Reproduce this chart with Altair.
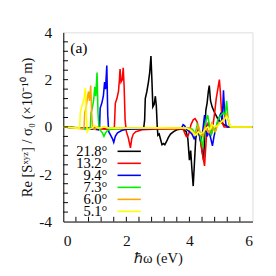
import altair as alt
import pandas as pd

# ---------------- data ----------------
LABELS = ["21.8°", "13.2°", "9.4°", "7.3°", "6.0°", "5.1°"]
COLORS = ["#000000", "#ff0000", "#0000ff", "#00ee00", "#ffa500", "#ffff00"]

x_218 = [0, 0.5, 1.0, 2.0, 2.55, 2.58, 2.6, 2.65, 2.7, 2.74, 2.78, 2.81, 2.84, 2.88, 2.92, 2.95, 2.98,
         3.0, 3.04, 3.08, 3.13, 3.18, 3.22, 3.28, 3.33, 3.4, 3.5, 3.6, 3.7, 3.8, 3.9, 3.95, 4.0, 4.04,
         4.08, 4.12, 4.16, 4.2, 4.25, 4.3, 4.35, 4.4, 4.45, 4.48, 4.52, 4.56, 4.6, 4.63, 4.67, 4.72,
         4.8, 4.9, 5.0, 5.1, 5.2, 5.3, 6.0]
y_218 = [0, -0.04, -0.06, -0.07, -0.05, 0.3, 1.2, 1.5, 1.9, 2.3, 3.0, 2.0, 0.85, 0.95, 1.3, 0.9, 0.0,
         -0.35, -0.3, -0.5, -0.75, -0.7, -0.75, -0.6, -0.45, -0.3, -0.2, -0.12, -0.1, -0.1, -0.2, -0.5,
         -1.4, -1.0, -1.8, -2.5, -1.5, -0.5, -0.1, -0.3, -0.5, -1.0, -1.4, -0.5, 0.7, 1.0, 1.5, 1.75,
         1.1, 0.85, 0.6, 0.35, 0.2, 0.1, 0.02, 0.0, 0.0]

x_132 = [0, 0.5, 1.0, 1.4, 1.55, 1.62, 1.65, 1.7, 1.75, 1.78, 1.8, 1.83, 1.87, 1.9, 1.93, 1.96, 2.0,
         2.06, 2.1, 2.13, 2.17, 2.22, 2.3, 2.5, 3.0, 3.5, 3.8, 3.85, 3.9, 3.95, 4.0, 4.05, 4.12, 4.18,
         4.25, 4.3, 4.35, 4.42, 4.48, 4.52, 4.56, 4.6, 4.65, 4.7, 4.75, 4.8, 4.85, 4.9, 4.95, 4.98,
         5.02, 5.06, 5.1, 6.0]
y_132 = [0, -0.03, -0.06, -0.1, -0.1, 0.0, 1.0, 1.2, 1.5, 2.0, 2.45, 1.9, 2.0, 2.5, 1.7, 0.3, -0.2,
         -0.45, -0.7, -0.88, -0.5, -0.3, -0.2, -0.12, -0.08, -0.08, -0.08, -0.25, -0.4, -0.4, -0.2,
         0.1, 0.3, 0.35, 0.2, -0.2, -0.6, -1.2, -1.65, -0.8, 0.0, 0.2, -0.1, -0.3, 0.1, 0.6, 1.2, 1.6,
         2.0, 1.5, 0.6, 0.1, 0.0, 0.0]

x_94 = [0, 0.5, 1.0, 1.12, 1.15, 1.17, 1.22, 1.27, 1.31, 1.34, 1.38, 1.41, 1.44, 1.5, 1.56, 1.6, 1.65,
        1.72, 1.85, 2.0, 2.5, 3.0, 3.5, 3.75, 3.8, 3.85, 3.9, 4.0, 4.08, 4.15, 4.22, 4.28, 4.35, 4.42,
        4.48, 4.52, 4.56, 4.62, 4.68, 4.73, 4.78, 4.85, 4.92, 5.0, 5.04, 5.08, 5.12, 5.16, 5.2, 6.0]
y_94 = [0, -0.05, -0.1, -0.12, 0.0, 0.8, 1.0, 1.3, 1.9, 1.6, 2.6, 0.5, -0.2, -0.35, -0.5, -0.65, -0.4,
        -0.25, -0.15, -0.1, -0.08, -0.06, -0.05, -0.05, 0.1, 0.05, -0.1, -0.2, -0.3, -0.5, -0.3, 0.0,
        -0.6, -0.2, 0.5, 0.1, -0.4, -0.2, -0.5, -0.8, -0.4, 0.0, 0.3, 0.6, 0.2, 1.55, 0.5, 0.1, 0.0, 0.0]

x_73 = [0, 0.5, 0.82, 0.86, 0.88, 0.92, 0.96, 1.0, 1.03, 1.07, 1.1, 1.13, 1.18, 1.24, 1.29, 1.34, 1.4,
        1.5, 1.8, 2.5, 3.5, 4.0, 4.1, 4.18, 4.25, 4.32, 4.38, 4.42, 4.47, 4.53, 4.58, 4.64, 4.7, 4.76,
        4.82, 4.9, 5.0, 5.08, 5.13, 5.18, 5.22, 5.27, 5.3, 6.0]
y_73 = [0, -0.04, -0.08, 0.0, 0.6, 0.8, 1.1, 1.7, 1.3, 2.3, 0.6, 0.0, -0.15, -0.25, -0.4, -0.25, -0.15,
        -0.1, -0.05, -0.05, -0.04, -0.05, -0.1, -0.3, 0.1, -0.2, -0.6, -0.85, -0.2, 0.3, 0.5, 0.0, -0.3,
        0.0, -0.2, 0.3, 0.5, 0.6, 0.5, 1.1, 0.4, 0.05, 0.0, 0.0]

x_60 = [0, 0.4, 0.62, 0.66, 0.68, 0.72, 0.76, 0.8, 0.83, 0.87, 0.9, 0.93, 1.0, 1.08, 1.15, 1.3, 1.4,
        2.0, 3.0, 4.0, 4.08, 4.15, 4.22, 4.28, 4.35, 4.42, 4.5, 4.56, 4.62, 4.7, 4.76, 4.82, 4.9, 5.0,
        5.1, 5.18, 5.22, 5.27, 5.3, 6.0]
y_60 = [0, -0.05, -0.08, 0.0, 0.6, 0.8, 1.2, 1.5, 1.1, 1.75, 0.6, -0.05, -0.1, 0.0, -0.05, 0.0, -0.05,
        -0.05, -0.04, -0.05, -0.15, -0.3, -0.2, 0.1, -0.3, -0.4, 0.0, -0.15, -0.25, 0.15, -0.1, -0.2,
        0.1, 0.2, 0.35, 0.55, 0.4, 0.1, 0.0, 0.0]

x_51 = [0, 0.45, 0.5, 0.52, 0.54, 0.58, 0.62, 0.66, 0.7, 0.73, 0.76, 0.8, 0.9, 1.0, 1.1, 1.3, 1.5, 2.0,
        3.0, 3.9, 4.0, 4.1, 4.2, 4.28, 4.35, 4.42, 4.5, 4.58, 4.65, 4.72, 4.8, 4.9, 5.0, 5.1, 5.18,
        5.23, 5.28, 5.32, 6.0]
y_51 = [0, -0.05, -0.05, 0.0, 0.6, 0.85, 1.0, 1.2, 1.65, 0.5, -0.2, -0.1, -0.05, 0.05, -0.05, 0.0,
        -0.05, -0.05, -0.03, -0.05, -0.1, -0.2, -0.35, -0.2, -0.3, -0.25, -0.1, 0.0, -0.1, 0.1, 0.0,
        0.05, 0.2, 0.3, 0.45, 0.35, 0.1, 0.0, 0.0]

X_LABEL_TICKS = [0, 2, 4, 6]
Y_LABEL_TICKS = [-4, -2, 0, 2, 4]
X_MINOR = [0.4, 0.8, 1.2, 1.6, 2, 2.4, 2.8, 3.2, 3.6, 4, 4.4, 4.8, 5.2, 5.6]
Y_MINOR = [-3.6, -3.2, -2.8, -2.4, -2, -1.6, -1.2, -0.8, -0.4, 0, 0.4, 0.8, 1.2, 1.6, 2, 2.4,
           2.8, 3.2, 3.6]

SERIES = [(x_218, y_218), (x_132, y_132), (x_94, y_94), (x_73, y_73), (x_60, y_60), (x_51, y_51)]

rows = []
for i, (lab, (xs_, ys_)) in enumerate(zip(LABELS, SERIES)):
    for j, (xv, yv) in enumerate(zip(xs_, ys_)):
        rows.append({"series": lab, "order": i, "idx": j, "x": xv, "y": yv})
df = pd.DataFrame(rows)

# legend table (placement constants kept separate)
LEG_XT, LEG_X0, LEG_X1 = 1.40, 1.72, 2.46
LEG_Y0, LEG_DY = -1.03, 0.508
leg = pd.DataFrame({"series": LABELS,
                    "y": [LEG_Y0 - i * LEG_DY for i in range(len(LABELS))]})
leg["xt"] = LEG_XT
leg["x0"] = LEG_X0
leg["x1"] = LEG_X1

FONT = "Liberation Serif"
W = H = 195
X_DOM = [0, 6]
Y_DOM = [-4, 4]
TICK_X_LEN = 0.15   # tick length in x units (~5 px)
TICK_Y_LEN = 0.2    # tick length in y units (~5 px)
xs = alt.Scale(domain=X_DOM, nice=False, zero=False)
ys = alt.Scale(domain=Y_DOM, nice=False, zero=False)
cs = alt.Scale(domain=LABELS, range=COLORS)

x_axis = alt.Axis(values=X_LABEL_TICKS, ticks=False, tickSize=0, grid=False, domainColor="#000",
                  labelFont=FONT, labelFontSize=16, labelColor="#111", labelPadding=12,
                  labelExpr="'' + datum.value", orient="bottom",
                  title="ℏω (eV)", titleFont=FONT, titleFontSize=15, titleFontWeight="normal",
                  titleColor="#111", titlePadding=2)
y_axis = alt.Axis(values=Y_LABEL_TICKS, ticks=False, tickSize=0, grid=False, domainColor="#000",
                  labelFont=FONT, labelFontSize=16, labelColor="#111", labelPadding=12,
                  labelExpr="'' + datum.value", orient="left",
                  title="Re [Sˣʸᶻ] / σ₀ (×10⁻¹⁰ m)", titleFont=FONT, titleFontSize=15,
                  titleFontWeight="normal", titleColor="#111", titlePadding=4)

lines = alt.Chart(df).mark_line(strokeWidth=1.6, clip=True).encode(
    x=alt.X("x:Q", scale=xs, axis=x_axis),
    y=alt.Y("y:Q", scale=ys, axis=y_axis),
    color=alt.Color("series:N", scale=cs, legend=None),
    detail="order:O",
    order="idx:Q",
)

xt = pd.DataFrame({"v": X_MINOR})
xt["a"] = Y_DOM[0]
xt["b"] = Y_DOM[0] + TICK_Y_LEN
yt = pd.DataFrame({"v": Y_MINOR})
yt["a"] = X_DOM[0]
yt["b"] = X_DOM[0] + TICK_X_LEN

xticks = alt.Chart(xt).mark_rule(color="#000", strokeWidth=1).encode(
    x=alt.X("v:Q", scale=xs, axis=None),
    y=alt.Y("a:Q", scale=ys, axis=None), y2="b:Q")
yticks = alt.Chart(yt).mark_rule(color="#000", strokeWidth=1).encode(
    y=alt.Y("v:Q", scale=ys, axis=None),
    x=alt.X("a:Q", scale=xs, axis=None), x2="b:Q")

leg_lines = alt.Chart(leg).mark_rule(strokeWidth=1.6).encode(
    x=alt.X("x0:Q", scale=xs, axis=None), x2="x1:Q", y=alt.Y("y:Q", scale=ys, axis=None),
    color=alt.Color("series:N", scale=cs, legend=None),
)
leg_text = alt.Chart(leg).mark_text(align="right", baseline="middle", font=FONT, fontSize=15,
                                    color="#000").encode(
    x=alt.X("xt:Q", scale=xs, axis=None), y=alt.Y("y:Q", scale=ys, axis=None), text="series:N",
)

panel = pd.DataFrame({"t": ["(a)"], "x": [0.22], "y": [3.32]})
panel_text = alt.Chart(panel).mark_text(align="left", baseline="middle", font=FONT, fontSize=16,
                                        color="#000").encode(
    x=alt.X("x:Q", scale=xs, axis=None), y=alt.Y("y:Q", scale=ys, axis=None), text="t:N",
)

chart = alt.layer(lines, xticks, yticks, leg_lines, leg_text, panel_text).resolve_axis(
    x="independent", y="independent"
).properties(
    width=W, height=H,
    autosize=alt.AutoSizeParams(type="none"),
    padding={"left": 57, "top": 21, "right": 16, "bottom": 52},
).configure_view(
    stroke="#999999", strokeWidth=1
).configure_axis(
    labelFont=FONT, titleFont=FONT
).configure(font=FONT)

chart.save("out.html", embed_options={"renderer": "svg", "actions": False})
